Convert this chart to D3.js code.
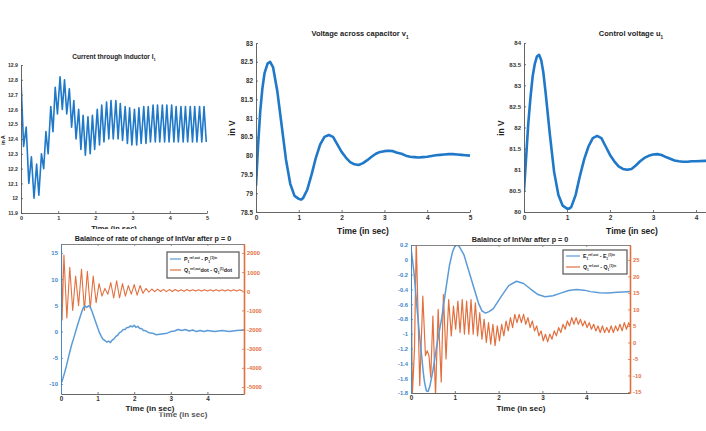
<!DOCTYPE html>
<html><head><meta charset="utf-8">
<script src="https://cdn.jsdelivr.net/npm/d3@7"></script>
<style>
body{margin:0;background:#fff;}
svg{display:block;font-family:"Liberation Sans",Arial,sans-serif;}
</style></head><body>
<svg id="c" width="706" height="431"></svg>
<script>
// ---------------- DATA ----------------
const timeTicks = [0,1,2,3,4,5];
const timeTicksShort = [0,1,2,3,4];

// Current through inductor I1 (A)
const curT = [0.00,0.07,0.14,0.21,0.28,0.35,0.42,0.48,0.55,0.61,0.67,0.73,0.80,0.86,0.92,0.98,1.05,1.11,1.17,1.23,1.30,1.36,1.42,1.48,1.55,1.61,1.67,1.73,1.80,1.86,1.92,1.98,2.05,2.11,2.17,2.23,2.30,2.36,2.42,2.48,2.55,2.61,2.67,2.73,2.80,2.86,2.92,2.98,3.05,3.11,3.17,3.23,3.30,3.36,3.42,3.48,3.55,3.61,3.67,3.73,3.80,3.86,3.92,3.98,4.05,4.11,4.17,4.23,4.30,4.36,4.42,4.48,4.55,4.61,4.67,4.73,4.80,4.86,4.92,4.98];
const curV = [12.80,12.35,12.48,12.10,12.28,12.00,12.23,12.02,12.30,12.20,12.45,12.30,12.62,12.45,12.75,12.57,12.82,12.60,12.80,12.57,12.74,12.48,12.66,12.40,12.60,12.33,12.56,12.29,12.55,12.30,12.56,12.33,12.60,12.36,12.63,12.38,12.65,12.40,12.66,12.40,12.66,12.40,12.64,12.39,12.62,12.37,12.61,12.36,12.60,12.36,12.61,12.37,12.62,12.37,12.62,12.38,12.63,12.38,12.63,12.38,12.63,12.38,12.63,12.38,12.63,12.38,12.62,12.38,12.62,12.38,12.62,12.38,12.62,12.38,12.62,12.38,12.62,12.38,12.62,12.38];
const curTicks = [11.9,12,12.1,12.2,12.3,12.4,12.5,12.6,12.7,12.8,12.9];

// Voltage across capacitor v1 (V)
const voltT = [0,0.05,0.1,0.15,0.2,0.27,0.33,0.4,0.5,0.6,0.7,0.8,0.9,1.0,1.05,1.1,1.2,1.3,1.4,1.5,1.6,1.7,1.8,1.9,2.0,2.1,2.2,2.3,2.4,2.5,2.6,2.7,2.8,2.9,3.0,3.1,3.2,3.3,3.4,3.5,3.6,3.7,3.8,3.9,4.0,4.1,4.2,4.3,4.4,4.5,4.6,4.7,4.8,4.9,5.0];
const voltV = [79.2,80.3,81.2,81.8,82.2,82.45,82.5,82.35,81.7,80.8,79.9,79.25,78.93,78.85,78.83,78.87,79.1,79.5,79.95,80.3,80.5,80.55,80.5,80.3,80.1,79.95,79.83,79.77,79.75,79.8,79.88,79.97,80.05,80.1,80.12,80.13,80.12,80.08,80.05,80.0,79.97,79.96,79.95,79.96,79.97,79.99,80.01,80.02,80.03,80.04,80.04,80.03,80.02,80.01,80.0];
const voltTicks = [78.5,79,79.5,80,80.5,81,81.5,82,82.5,83];

// Control voltage u1 (V)
const ctrlT = [0,0.05,0.1,0.15,0.2,0.25,0.3,0.35,0.4,0.45,0.5,0.6,0.7,0.8,0.9,1.0,1.05,1.1,1.2,1.3,1.4,1.5,1.6,1.7,1.8,1.9,2.0,2.1,2.2,2.3,2.4,2.5,2.6,2.7,2.8,2.9,3.0,3.1,3.2,3.3,3.4,3.5,3.6,3.7,3.8,3.9,4.0,4.2,4.5,5.0];
const ctrlV = [80.5,81.3,82.1,82.7,83.2,83.5,83.68,83.72,83.6,83.3,82.85,81.85,80.95,80.4,80.15,80.08,80.08,80.12,80.4,80.85,81.25,81.55,81.75,81.8,81.75,81.55,81.35,81.2,81.08,81.02,81.0,81.02,81.1,81.2,81.28,81.33,81.36,81.37,81.35,81.3,81.26,81.22,81.2,81.19,81.19,81.2,81.2,81.21,81.21,81.2];
const ctrlTicks = [80,80.5,81,81.5,82,82.5,83,83.5,84];

// Balance of rate of change (left: P, right: Qdot)
const balPT = [0,0.05,0.1,0.15,0.2,0.25,0.3,0.35,0.4,0.45,0.5,0.55,0.6,0.65,0.7,0.75,0.8,0.85,0.9,0.95,1.0,1.05,1.1,1.15,1.2,1.25,1.3,1.35,1.4,1.45,1.5,1.55,1.6,1.65,1.7,1.75,1.8,1.85,1.9,1.95,2.0,2.05,2.1,2.15,2.2,2.25,2.3,2.4,2.5,2.6,2.7,2.8,2.9,3.0,3.1,3.2,3.3,3.4,3.5,3.6,3.7,3.8,3.9,4.0,4.2,4.4,4.6,4.8,5.0];
const balP = [-10,-9,-7.8,-6.5,-5,-3.6,-2.3,-1.2,0,1.2,2.3,3.4,4.4,4.9,4.6,4.9,4.7,3.8,2.8,1.8,0.8,-0.2,-0.9,-1.5,-1.7,-2.0,-1.8,-2.1,-1.6,-1.4,-0.9,-0.7,-0.2,0,0.4,0.4,0.8,0.8,1.1,0.9,1.2,0.8,1.0,0.6,0.6,0.2,0.2,-0.2,-0.3,-0.6,-0.5,-0.4,-0.3,0,0.1,0.4,0.2,0.4,0.1,0.3,0,0.2,0,0.2,0,0.2,0,0.2,0.3];
const balQT = [0,0.01,0.03,0.08,0.16,0.24,0.32,0.40,0.48,0.56,0.64,0.72,0.80,0.88,0.96,1.04,1.12,1.20,1.28,1.36,1.44,1.52,1.60,1.68,1.76,1.84,1.92,2.00,2.08,2.16,2.24,2.32,2.40,2.48,2.56,2.64,2.72,2.80,2.88,2.96,3.04,3.12,3.20,3.28,3.36,3.44,3.52,3.60,3.68,3.76,3.84,3.92,4.00,4.08,4.16,4.24,4.32,4.40,4.48,4.56,4.64,4.72,4.80,4.88,4.96];
const balQ = [-6000,3000,-1500,1900,-1400,1250,-1000,800,-750,1150,-1000,1050,-900,800,-600,400,-250,150,-150,450,-350,550,-350,400,-250,300,-150,350,-200,300,-100,150,-50,120,-20,110,-10,100,-20,90,-10,90,0,80,0,90,10,80,10,80,10,80,10,80,10,80,10,80,10,80,10,80,10,80,10];
const balLTicks = [-10,-5,0,5,10,15];
const balRTicks = [-5000,-4000,-3000,-2000,-1000,0,1000,2000];

// Balance of IntVar (left: E, right: Q)
const intET = [0,0.07,0.14,0.2,0.24,0.28,0.31,0.35,0.39,0.43,0.5,0.6,0.7,0.8,0.88,0.95,1.0,1.05,1.1,1.21,1.375,1.54,1.62,1.7,1.78,1.88,2.05,2.23,2.41,2.57,2.73,2.9,3.06,3.24,3.42,3.6,3.78,3.95,4.1,4.3,4.5,4.7,4.85,5.0];
const intE = [0.16,-0.18,-0.67,-1.05,-1.28,-1.52,-1.66,-1.77,-1.78,-1.71,-1.5,-1.12,-0.79,-0.38,-0.07,0.11,0.18,0.2,0.18,0.065,-0.26,-0.585,-0.69,-0.72,-0.7,-0.66,-0.505,-0.35,-0.29,-0.32,-0.395,-0.47,-0.5,-0.485,-0.45,-0.415,-0.4,-0.41,-0.43,-0.445,-0.45,-0.44,-0.435,-0.43];
const intQT = [0,0.03,0.08,0.12,0.2,0.27,0.33,0.37,0.41,0.45,0.5,0.56,0.62,0.69,0.74,0.8,0.86,0.92,0.97,1.02,1.07,1.12,1.17,1.22,1.27,1.32,1.37,1.42,1.47,1.52,1.57,1.62,1.67,1.72,1.77,1.82,1.87,1.92,1.97,2.02,2.07,2.12,2.17,2.22,2.27,2.32,2.37,2.42,2.47,2.52,2.57,2.62,2.67,2.72,2.77,2.82,2.87,2.92,2.97,3.02,3.07,3.12,3.17,3.22,3.27,3.32,3.37,3.42,3.47,3.52,3.57,3.62,3.67,3.72,3.77,3.82,3.87,3.92,3.97,4.02,4.07,4.12,4.17,4.22,4.27,4.32,4.37,4.42,4.47,4.52,4.57,4.62,4.67,4.72,4.77,4.82,4.87,4.92,4.97,5.0];
const intQ = [29,-16,-2,31,-13,14,-4,-2.5,-4,-10.5,8,-16,10,-12,14.5,-5,13,2,11,4,12.5,3,13,2.5,12.5,2.5,13,2.5,12,2,9,1,7,0,6,-0.5,5.5,-1,5,0.5,5.5,2,6.5,3.5,7.5,4.5,8.5,6,8.5,6,8.5,5.5,7.5,4.5,6.5,3.5,5,2,3.5,0.5,2.5,0.2,2.5,1,3.5,2,4.5,3,5.5,4,6.5,5,7.5,5.5,7.5,5.5,7,5,6.5,4.5,6,4,5.5,3.5,5,3,5,3,4.5,3,5,3,5,3.5,5.5,3.5,6,4,6,5];
const intLTicks = [-1.8,-1.6,-1.4,-1.2,-1,-0.8,-0.6,-0.4,-0.2,0,0.2];
const intRTicks = [-15,-10,-5,0,5,10,15,20,25];

// ---------------- DRAW ----------------
const FONT = '"Liberation Sans", Arial, sans-serif';
const AX = "#555";
const TXT = "#333";
const BLUE_TOP = "#1f78c8";
const BLUE = "#5b9bd8";
const ORANGE = "#e2703f";
const svg = d3.select("#c");
const defs = svg.append("defs");
const fmt = d => String(+(+d).toFixed(2));

function clipRect(id, x0, y0, x1, y1) {
  defs.append("clipPath").attr("id", id).append("rect")
    .attr("x", x0).attr("y", y0).attr("width", x1 - x0).attr("height", y1 - y0);
  return "url(#" + id + ")";
}
function styleAxis(g, color, txtColor, fs, lw) {
  g.select(".domain").attr("stroke", color).attr("stroke-width", lw || 0.9);
  g.selectAll(".tick line").attr("stroke", color).attr("stroke-width", 0.8);
  g.selectAll(".tick text").attr("fill", txtColor).attr("font-size", fs)
    .attr("font-weight", "bold").attr("font-family", FONT);
}
function rich(x, y, parts, fs, opts) {
  opts = opts || {};
  const t = svg.append("text").attr("x", x).attr("y", y).attr("font-size", fs)
    .attr("font-family", FONT).attr("font-weight", opts.weight || "bold")
    .attr("fill", opts.fill || "#222").attr("text-anchor", opts.anchor || "middle");
  if (opts.rotate) t.attr("transform", `rotate(-90,${x},${y})`);
  let shift = 0;
  parts.forEach(p => {
    const s = p[0], k = p[1] || "n";
    const target = k === "sub" ? fs * 0.35 : k === "sup" ? -fs * 0.45 : 0;
    t.append("tspan").attr("dy", (target - shift).toFixed(2))
      .attr("font-size", k === "n" ? fs : fs * 0.62).text(s);
    shift = target;
  });
  return t;
}
function drawLine(xs, ys, T, V, color, w, clip) {
  const pts = T.map((t, i) => [t, V[i]]);
  svg.append("path").datum(pts).attr("clip-path", clip)
    .attr("fill", "none").attr("stroke", color).attr("stroke-width", w)
    .attr("stroke-linejoin", "round")
    .attr("d", d3.line().x(d => xs(d[0])).y(d => ys(d[1])));
}

// ---------- Top-left: current ----------
(function () {
  const x = d3.scaleLinear([0, 5], [21, 207]);
  const y = d3.scaleLinear([11.9, 12.9], [213, 65]);
  const cp = clipRect("cpA", 21, 60, 207, 213);
  drawLine(x, y, curT, curV, BLUE_TOP, 1.6, cp);
  const gx = svg.append("g").attr("transform", "translate(0,213)")
    .call(d3.axisBottom(x).tickValues(timeTicks).tickFormat(fmt).tickSizeInner(-2).tickSizeOuter(0).tickPadding(3));
  styleAxis(gx, AX, TXT, 5.5);
  const gy = svg.append("g").attr("transform", "translate(21,0)")
    .call(d3.axisLeft(y).tickValues(curTicks).tickFormat(fmt).tickSizeInner(-2).tickSizeOuter(0).tickPadding(3));
  styleAxis(gy, AX, TXT, 5.2);
  rich(114, 59, [["Current through Inductor I"], ["1", "sub"]], 6.5);
  rich(5, 140, [["in A"]], 5, { rotate: true });
  rich(114, 231, [["Time (in sec)"]], 7.5);
})();

// ---------- Top-middle: voltage ----------
(function () {
  const x = d3.scaleLinear([0, 5], [256, 470]);
  const y = d3.scaleLinear([78.5, 83], [212, 43]);
  const cp = clipRect("cpB", 256, 40, 472, 212);
  drawLine(x, y, voltT, voltV, BLUE_TOP, 2.6, cp);
  const gx = svg.append("g").attr("transform", "translate(0,212)")
    .call(d3.axisBottom(x).tickValues(timeTicks).tickFormat(fmt).tickSizeInner(-2).tickSizeOuter(0).tickPadding(3));
  styleAxis(gx, AX, TXT, 6.5);
  const gy = svg.append("g").attr("transform", "translate(256,0)")
    .call(d3.axisLeft(y).tickValues(voltTicks).tickFormat(fmt).tickSizeInner(-2).tickSizeOuter(0).tickPadding(3));
  styleAxis(gy, AX, TXT, 6.3);
  rich(360, 36, [["Voltage across capacitor v"], ["1", "sub"]], 7.5);
  rich(235, 128, [["in V"]], 8.5, { rotate: true });
  rich(363, 234, [["Time (in sec)"]], 8.5);
})();

// ---------- Top-right: control voltage ----------
(function () {
  const x = d3.scaleLinear([0, 5], [524, 739]);
  const y = d3.scaleLinear([80, 84], [212, 43]);
  const cp = clipRect("cpC", 524, 40, 741, 212);
  drawLine(x, y, ctrlT, ctrlV, BLUE_TOP, 2.6, cp);
  const gx = svg.append("g").attr("transform", "translate(0,212)")
    .call(d3.axisBottom(x).tickValues(timeTicksShort).tickFormat(fmt).tickSizeInner(-2).tickSizeOuter(0).tickPadding(3));
  styleAxis(gx, AX, TXT, 6.5);
  const gy = svg.append("g").attr("transform", "translate(524,0)")
    .call(d3.axisLeft(y).tickValues(ctrlTicks).tickFormat(fmt).tickSizeInner(-2).tickSizeOuter(0).tickPadding(3));
  styleAxis(gy, AX, TXT, 6);
  rich(631, 36, [["Control voltage u"], ["1", "sub"]], 7.5);
  rich(504, 128, [["in V"]], 8.5, { rotate: true });
  rich(632, 234, [["Time (in sec)"]], 8.5);
})();

// white panel of the lower-left figure (covers bottom of upper label)
svg.append("rect").attr("x", 0).attr("y", 229).attr("width", 300).attr("height", 202).attr("fill", "#fff");

// ---------- Bottom-left: balance of rate of change ----------
(function () {
  const x = d3.scaleLinear([0, 5], [61, 244]);
  const yl = d3.scaleLinear([-11.9, 16.7], [394, 244]);
  const yr = d3.scaleLinear([-5366, 2471], [394, 244]);
  const cp = clipRect("cpD", 61, 244, 244, 394);
  drawLine(x, yr, balQT, balQ, ORANGE, 1.1, cp);
  drawLine(x, yl, balPT, balP, BLUE, 1.5, cp);
  const gt = svg.append("g").attr("transform", "translate(0,244)")
    .call(d3.axisTop(x).tickValues(timeTicks).tickFormat("").tickSizeInner(-2).tickSizeOuter(0));
  styleAxis(gt, "#777", TXT, 6);
  const gx = svg.append("g").attr("transform", "translate(0,394)")
    .call(d3.axisBottom(x).tickValues(timeTicksShort).tickFormat(fmt).tickSizeInner(-2).tickSizeOuter(0).tickPadding(3));
  styleAxis(gx, AX, TXT, 6.3);
  const gl = svg.append("g").attr("transform", "translate(61,0)")
    .call(d3.axisLeft(yl).tickValues(balLTicks).tickFormat(fmt).tickSizeInner(-2).tickSizeOuter(0).tickPadding(3));
  styleAxis(gl, "#3d86c8", "#3d86c8", 6);
  const gr = svg.append("g").attr("transform", "translate(244,0)")
    .call(d3.axisRight(yr).tickValues(balRTicks).tickFormat(fmt).tickSizeInner(-2).tickSizeOuter(0).tickPadding(3));
  styleAxis(gr, ORANGE, ORANGE, 5.8, 1.6);
  rich(153, 241, [["Balaince of rate of change of IntVar after p = 0"]], 7.2);
  rich(183, 417, [["Time (in sec)"]], 8, { fill: "#555" });
  svg.append("rect").attr("x", 122).attr("y", 405).attr("width", 56).attr("height", 7.5).attr("fill", "#fff");
  rich(150, 411, [["Time (in sec)"]], 8);
  // legend
  svg.append("rect").attr("x", 167).attr("y", 252).attr("width", 72).attr("height", 26)
    .attr("fill", "#fff").attr("stroke", "#555").attr("stroke-width", 1.2);
  svg.append("line").attr("x1", 170).attr("x2", 181).attr("y1", 259).attr("y2", 259).attr("stroke", BLUE).attr("stroke-width", 1.2);
  svg.append("line").attr("x1", 170).attr("x2", 181).attr("y1", 270).attr("y2", 270).attr("stroke", ORANGE).attr("stroke-width", 1.2);
  rich(184, 261, [["P"], ["1", "sub"], ["ref,out", "sup"], [" - P"], ["1", "sub"], ["(1)in", "sup"]], 5.4, { anchor: "start" });
  rich(184, 272, [["Q"], ["1", "sub"], ["ref,out", "sup"], ["dot - Q"], ["1", "sub"], ["(1)", "sup"], ["dot"]], 5.4, { anchor: "start" });
})();

// ---------- Bottom-right: balance of IntVar ----------
(function () {
  const x = d3.scaleLinear([0, 5], [411, 630]);
  const yl = d3.scaleLinear([-1.8, 0.2], [393, 245]);
  const yr = d3.scaleLinear([-15.3, 29.5], [393, 245]);
  const cp = clipRect("cpE", 411, 245, 630, 393);
  drawLine(x, yr, intQT, intQ, ORANGE, 1.2, cp);
  drawLine(x, yl, intET, intE, BLUE, 1.5, cp);
  const gt = svg.append("g").attr("transform", "translate(0,245)")
    .call(d3.axisTop(x).tickValues(timeTicks).tickFormat("").tickSizeInner(-2).tickSizeOuter(0));
  styleAxis(gt, "#777", TXT, 6);
  const gx = svg.append("g").attr("transform", "translate(0,393)")
    .call(d3.axisBottom(x).tickValues(timeTicksShort).tickFormat(fmt).tickSizeInner(-2).tickSizeOuter(0).tickPadding(3));
  styleAxis(gx, AX, TXT, 6.3);
  const gl = svg.append("g").attr("transform", "translate(411,0)")
    .call(d3.axisLeft(yl).tickValues(intLTicks).tickFormat(fmt).tickSizeInner(-2).tickSizeOuter(0).tickPadding(3));
  styleAxis(gl, "#3d86c8", "#3d86c8", 5.8);
  const gr = svg.append("g").attr("transform", "translate(630,0)")
    .call(d3.axisRight(yr).tickValues(intRTicks).tickFormat(fmt).tickSizeInner(-2).tickSizeOuter(0).tickPadding(3));
  styleAxis(gr, ORANGE, ORANGE, 5.8, 1.6);
  rich(520, 242, [["Balaince of IntVar after p = 0"]], 7.2);
  rich(521, 411, [["Time (in sec)"]], 8);
  // legend
  svg.append("rect").attr("x", 563).attr("y", 250).attr("width", 64).attr("height", 24)
    .attr("fill", "#fff").attr("stroke", "#555").attr("stroke-width", 1.2);
  svg.append("line").attr("x1", 566).attr("x2", 580).attr("y1", 256).attr("y2", 256).attr("stroke", BLUE).attr("stroke-width", 1.2);
  svg.append("line").attr("x1", 566).attr("x2", 580).attr("y1", 267).attr("y2", 267).attr("stroke", ORANGE).attr("stroke-width", 1.2);
  rich(583, 258, [["E"], ["1", "sub"], ["ref,out", "sup"], [" - E"], ["1", "sub"], ["(1)in", "sup"]], 5.2, { anchor: "start" });
  rich(583, 269, [["Q"], ["1", "sub"], ["ref,out", "sup"], [" - Q"], ["1", "sub"], ["(1)in", "sup"]], 5.2, { anchor: "start" });
})();
</script>
</body></html>
